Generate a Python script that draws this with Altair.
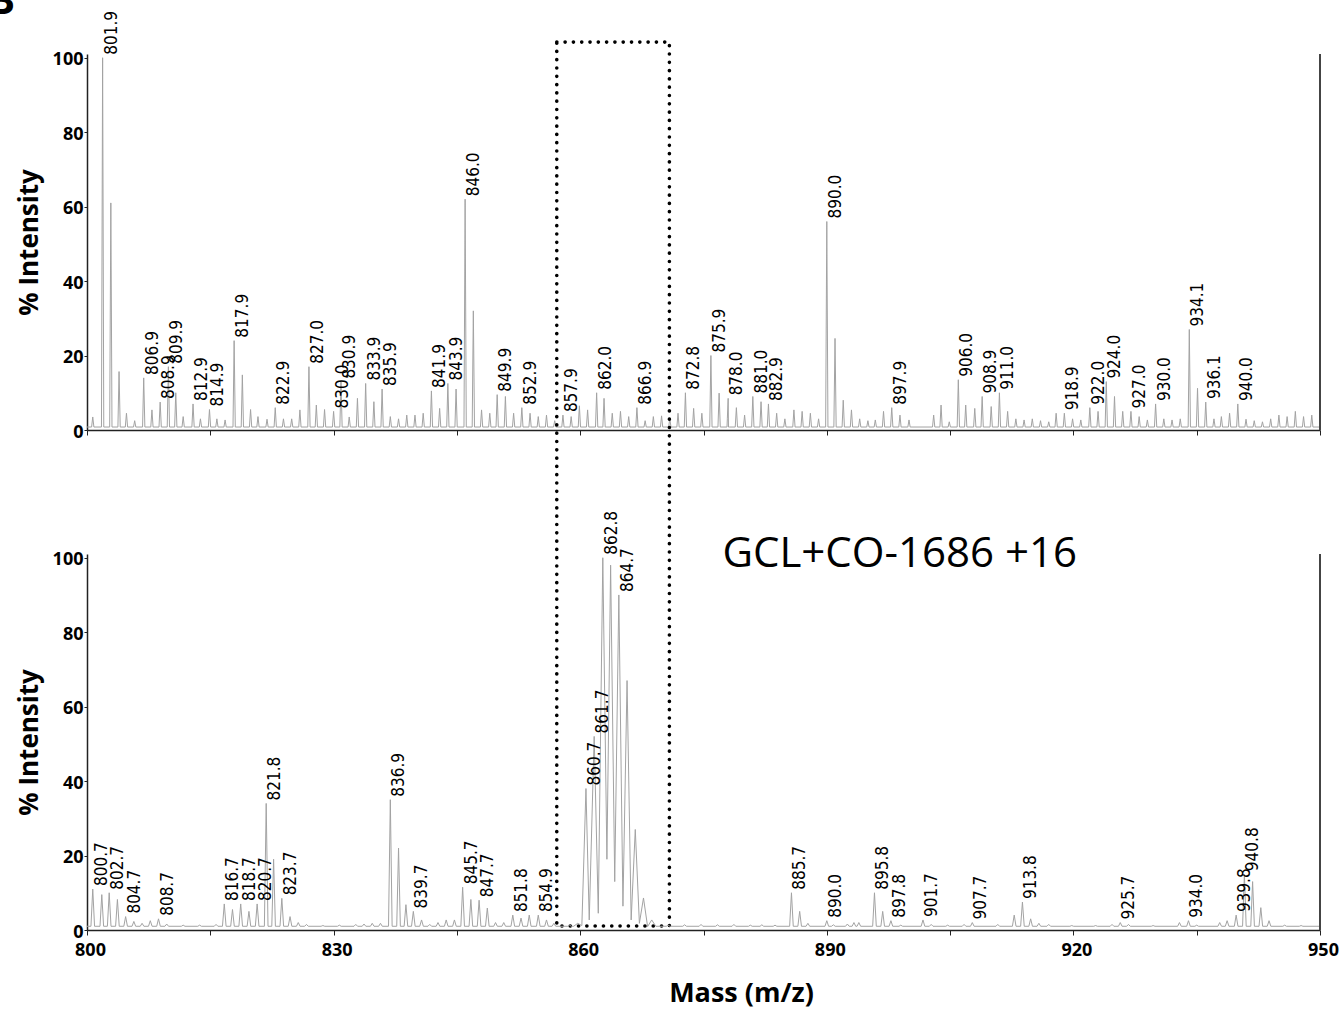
import altair as alt
import pandas as pd

# ---------------- data ----------------
# Top spectrum: labelled peaks
top_label_mz = [801.9, 806.9, 808.9, 809.9, 812.9, 814.9, 817.9, 822.9, 827.0, 830.0,
                830.9, 833.9, 835.9, 841.9, 843.9, 846.0, 849.9, 852.9, 857.9, 862.0,
                866.9, 872.8, 875.9, 878.0, 881.0, 882.9, 890.0, 897.9, 906.0, 908.9,
                911.0, 918.9, 922.0, 924.0, 927.0, 930.0, 934.1, 936.1, 940.0]
top_label_int = [100, 14, 7.5, 17, 7, 5.5, 24, 6, 17, 5,
                 13, 12.5, 11, 10.5, 12.5, 62, 9.5, 6, 4, 10,
                 6, 10, 20, 8.5, 9, 7, 56, 6, 13.5, 9,
                 10, 4.5, 6, 13, 5, 7, 27, 7.5, 7]
# Top spectrum: unlabelled peaks
top_other_mz = [800.7, 802.9, 803.9, 804.8, 805.8, 807.9, 810.8, 811.7, 813.8, 815.8,
                816.8, 818.9, 819.9, 820.8, 821.9, 823.9, 824.9, 825.9, 827.9, 828.9,
                831.9, 832.9, 834.9, 836.9, 837.9, 838.9, 839.9, 840.9, 842.9, 844.9,
                847.0, 848.0, 849.0, 850.9, 851.9, 853.9, 854.9, 855.9, 856.9, 858.9,
                859.9, 860.9, 862.9, 863.9, 864.9, 865.9, 867.9, 868.9, 869.9, 870.9,
                871.9, 873.8, 874.8, 876.9, 877.9, 879.0, 880.0, 882.0, 883.9, 884.9,
                886.0, 887.0, 888.0, 889.0, 891.0, 892.0, 893.0, 894.0, 895.0, 895.9,
                896.9, 898.9, 900.0, 903.0, 903.9, 904.9, 906.9, 908.0, 910.0, 912.0,
                913.0, 914.0, 915.0, 916.0, 917.0, 917.9, 919.9, 920.9, 923.0, 925.0,
                926.0, 928.0, 929.0, 931.0, 932.0, 933.0, 935.1, 937.1, 938.0, 939.0,
                941.0, 942.0, 943.0, 944.0, 945.0, 946.0, 947.0, 948.0, 949.0]
top_other_int = [3.5, 61, 15.7, 4.5, 2.5, 5.4, 10, 3.6, 3, 3,
                 2.7, 14.8, 5.5, 3.6, 2.9, 3, 3, 5.4, 6.7, 5.5,
                 3.5, 8.5, 7.6, 3.6, 3, 4, 4, 4.5, 5.8, 11,
                 32, 5.4, 4.5, 9, 4.5, 4.5, 3.6, 4, 2.5, 3.6,
                 6.5, 5.4, 8.5, 4.5, 5, 3.6, 2.5, 3.6, 3.8, 3.1,
                 4.5, 5.8, 4.5, 9.9, 3, 6, 4, 7.6, 4.5, 3,
                 5.4, 5, 4.5, 3, 24.6, 8, 5.4, 3, 2.5, 2.7,
                 5, 4, 2.7, 4, 6.7, 2.2, 6.7, 5.8, 6.3, 5,
                 3, 2.7, 3, 2.5, 2.2, 4.5, 3, 2.7, 5, 9,
                 5, 3.6, 2.7, 3, 2.7, 3, 11.2, 3, 3.6, 4.5,
                 2.9, 2.5, 2.2, 3, 4, 3.6, 5, 3.6, 4]

# Bottom spectrum: labelled peaks
bot_label_mz = [800.7, 802.7, 804.7, 808.7, 816.7, 818.7, 820.7, 821.8, 823.7, 836.9,
                839.7, 845.7, 847.7, 851.8, 854.9, 860.7, 861.7, 862.8, 864.7, 885.7,
                890.0, 895.8, 897.8, 901.7, 907.7, 913.8, 925.7, 934.0, 939.8, 940.8]
bot_label_int = [11, 10, 3.6, 3, 7, 7, 7, 34, 8.5, 35,
                 5, 11.5, 8, 4, 4, 38, 52, 100, 90, 10,
                 2.5, 10, 2.5, 2.7, 2, 7.5, 2, 2.5, 4, 15]
# Bottom spectrum: isolated peaks (outside the 860-869 cluster)
bot_peak_mz = [800.7, 801.8, 802.7, 803.7, 804.7, 805.7, 806.7, 807.7, 808.7, 809.7,
               811.7, 813.7, 815.7, 816.7, 817.7, 818.7, 819.7, 820.7, 821.8, 822.7,
               823.7, 824.7, 825.7, 826.7, 828.7, 830.7, 832.7, 833.7, 834.7, 835.7,
               836.9, 837.9, 838.8, 839.7, 840.7, 841.7, 842.7, 843.7, 844.7, 845.7,
               846.7, 847.7, 848.7, 849.7, 850.7, 851.8, 852.8, 853.8, 854.9, 855.9,
               856.8, 858.7, 870.7, 872.7, 874.7, 876.7, 878.7, 880.7, 882.1, 883.7,
               885.7, 886.7, 887.7, 890.0, 890.8, 892.5, 893.3, 893.9, 895.8, 896.8,
               897.8, 899.0, 901.7, 902.7, 904.7, 906.7, 907.7, 910.8, 912.8, 913.8,
               914.8, 915.8, 917.0, 919.8, 922.7, 924.7, 925.7, 926.7, 929.7, 932.9,
               934.0, 935.0, 937.8, 938.7, 939.8, 940.8, 941.8, 942.8, 943.8, 945.7,
               947.7]
bot_peak_int = [11, 9.5, 10, 8.2, 3.6, 2.3, 1.8, 2.5, 3, 1.6,
                1.3, 1.3, 1.5, 7, 5.5, 7, 5, 7, 34, 19,
                8.5, 3.6, 2, 1.5, 1.2, 1.3, 1.5, 1.6, 1.8, 1.8,
                35, 22, 6.8, 5, 2.7, 1.5, 2, 2.7, 2.7, 11.5,
                8.2, 8, 5.9, 2, 2, 4, 3.2, 4, 4, 2.7,
                1.8, 1.3, 1.3, 1.4, 1.5, 1.4, 1.5, 1.3, 1.4, 1.3,
                10, 5, 1.8, 2.5, 1.4, 1.6, 2, 2, 10, 5,
                2.5, 1.3, 2.7, 1.5, 1.3, 1.5, 2, 1.5, 4, 7.5,
                3, 1.8, 1.5, 1.2, 1.2, 1.5, 2, 1.5, 1.2, 2,
                2.5, 1.3, 2, 2.5, 4, 15, 13, 6, 2.5, 1.3,
                1.2]
# Bottom spectrum: the isotope cluster traced peak-valley-peak
cluster_mz = [859.2, 859.7, 860.2, 860.7, 861.1, 861.7, 862.2, 862.75, 863.25, 863.7,
              864.2, 864.7, 865.2, 865.7, 866.2, 866.7, 867.2, 867.7, 868.2, 868.7, 869.2]
cluster_int = [1.0, 1.8, 1.2, 38, 2.7, 52, 4.5, 100, 19, 98,
               13, 90, 6.4, 67, 2.7, 27, 1.8, 8.6, 0.9, 2.7, 1.0]

x_ticks = [800, 815, 830, 845, 860, 875, 890, 905, 920, 935, 950]
y_ticks = [0, 10, 20, 30, 40, 50, 60, 70, 80, 90, 100]

sample_label = "GCL+CO-1686 +16"
box_mz = [857.15, 870.85]

# ---------------- helpers ----------------
def spectrum(mz, inten, base, hw, extra_mz=(), extra_int=()):
    rows = [(800.0, base), (950.0, base)]
    for m, h in zip(mz, inten):
        rows += [(m - hw, base), (m, h), (m + hw, base)]
    rows += list(zip(extra_mz, extra_int))
    rows.sort()
    return pd.DataFrame(rows, columns=["mz", "h"])

def labels(mz, inten):
    return pd.DataFrame({"mz": mz, "h": inten, "lab": [f"{m:.1f}" for m in mz]})

W, H = 1233, 376
AX = "#222222"
LINE = "#a3a3a3"
xscale = alt.Scale(domain=[800, 950], nice=False, zero=False)
yscale = alt.Scale(domain=[0, 101], nice=False, zero=False)

def y_enc(field="h:Q"):
    return alt.Y(field, scale=yscale, axis=alt.Axis(
        values=y_ticks,
        title="% Intensity", titleFont="Open Sans", titleFontSize=26, titleFontWeight="bold",
        titleColor="black", titleX=-58, titleY=H / 2, titleAngle=270, titleAlign="center",
        titleBaseline="middle",
        labelFont="Open Sans", labelFontSize=18, labelFontWeight="bold", labelColor="black",
        labelPadding=1, labelOffset=2, tickSize=3, tickColor=AX, domainColor=AX,
        domainWidth=1.5, grid=False, labelOverlap=False))

def x_enc(show_labels):
    ax = dict(values=x_ticks, tickSize=5, tickColor=AX, domainColor=AX, domainWidth=1.5,
              grid=False, labelOverlap=False, labelFlush=False)
    if show_labels:
        ax.update(labelExpr="(datum.value - 800) % 30 == 0 ? datum.label : ''",
                  labelFont="Open Sans", labelFontSize=18, labelFontWeight="bold",
                  labelColor="black", labelPadding=6, labelOffset=3,
                  title="Mass (m/z)", titleFont="Open Sans", titleFontSize=27,
                  titleFontWeight="bold", titleColor="black", titleX=654, titleY=71,
                  titleAlign="center", titleBaseline="alphabetic")
    else:
        ax.update(labels=False, title=None)
    return alt.X("mz:Q", scale=xscale, axis=alt.Axis(**ax))

LABEL_FONT = "DejaVu Sans Condensed, DejaVu Sans"

def panel(spec_df, lab_df, top):
    line = alt.Chart(spec_df).mark_line(color=LINE, strokeWidth=1).encode(
        x=x_enc(not top), y=y_enc())
    txt = alt.Chart(lab_df).mark_text(
        angle=270, align="left", baseline="top", dx=3, dy=1,
        font=LABEL_FONT, fontSize=17, color="black").encode(
        x="mz:Q", y="h:Q", text="lab:N")
    right = alt.Chart(lab_df).mark_rule(color="#444444", strokeWidth=1.5).encode(
        x=alt.datum(950), y=alt.datum(0), y2=alt.datum(101))
    return [line, txt, right]

top_layers = panel(spectrum(top_label_mz + top_other_mz, top_label_int + top_other_int, 0.8, 0.14),
                   labels(top_label_mz, top_label_int), True)

box = alt.Chart(pd.DataFrame({"x0": [box_mz[0]], "x1": [box_mz[1]], "yt": [104.2]})).mark_rect(
    fillOpacity=0, stroke="black", strokeWidth=3.6, strokeDash=[0.1, 8.2], strokeCap="round"
).encode(x="x0:Q", x2="x1:Q", y="yt:Q", y2=alt.value(872))

letter = alt.Chart(pd.DataFrame({"t": ["B"]})).mark_text(
    font="Open Sans", fontSize=40, fontWeight="bold", align="right", baseline="alphabetic",
    color="black").encode(x=alt.value(-72), y=alt.value(-40), text="t:N")

top = alt.layer(*top_layers, box, letter).properties(width=W, height=H)

bot_layers = panel(spectrum(bot_peak_mz, bot_peak_int, 1.0, 0.22, cluster_mz, cluster_int),
                   labels(bot_label_mz, bot_label_int), False)
sample = alt.Chart(pd.DataFrame({"t": [sample_label]})).mark_text(
    font="Open Sans", fontSize=42, align="left", baseline="alphabetic", color="black").encode(
    x=alt.datum(877.3), y=alt.datum(97.6), text="t:N")
bottom = alt.layer(*bot_layers, sample).properties(width=W, height=H)

chart = alt.vconcat(top, bottom, spacing=124, bounds="flush").properties(
    autosize=alt.AutoSizeParams(type="none"),
    padding={"left": 87, "top": 54, "right": 24, "bottom": 958},
).configure_view(stroke=None)

chart.save("out.html", embed_options={"renderer": "svg", "actions": False})
